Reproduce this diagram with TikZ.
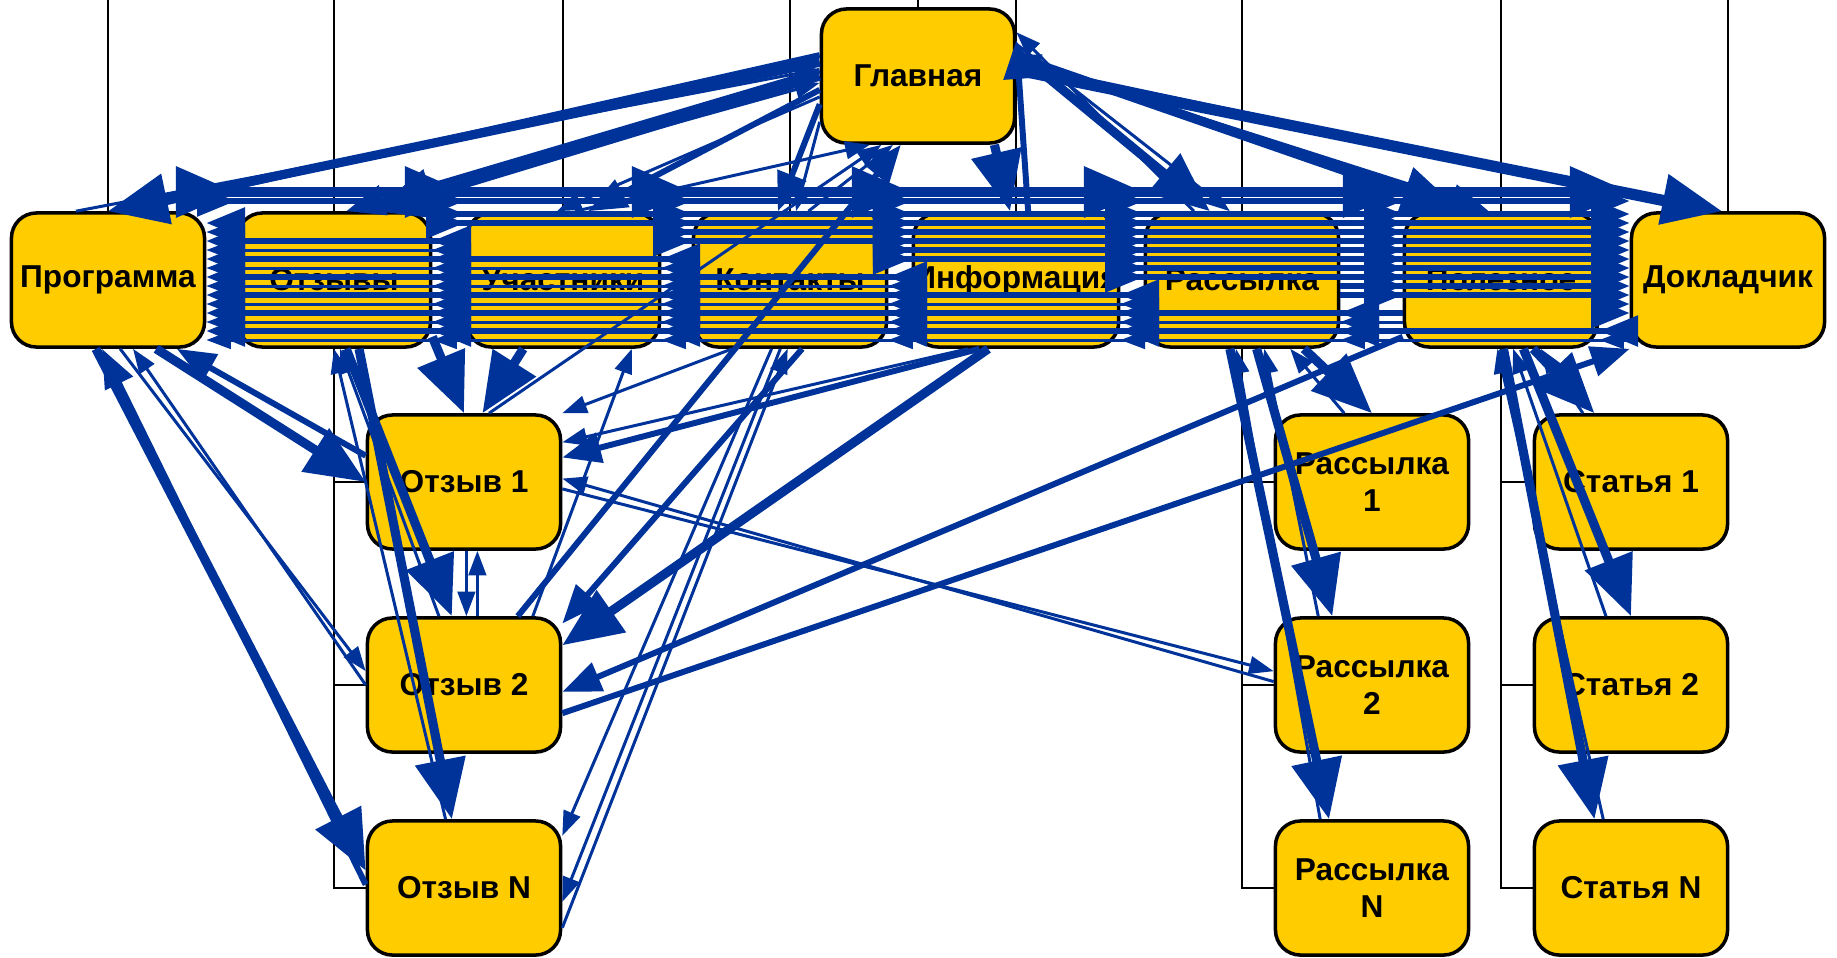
\documentclass[tikz,border=0pt]{standalone}
\usepackage{fontspec}
\setmainfont{Liberation Sans}
\usetikzlibrary{arrows.meta,calc}

\definecolor{lnkblue}{RGB}{0,51,153}
\definecolor{pgyellow}{RGB}{255,204,0}

\tikzset{
	pg/.style={draw=black, line width=1pt, fill=pgyellow, rounded corners=2.5mm,
		minimum width=1.93cm, minimum height=1.34cm, inner sep=0pt, align=center,
		font=\bfseries\fontsize{9}{10.5}\selectfont},
	tr/.style={draw=black, line width=0.5pt},
	lk/.style={draw=lnkblue, line width=0.85pt, -{Triangle[length=7pt,width=5pt]}},
	lkm/.style={draw=lnkblue, line width=1.7pt, -{Triangle[length=11pt,width=8.5pt]}},
	lkb/.style={draw=lnkblue, line width=2.6pt, -{Triangle[length=17pt,width=14pt]}},
}

\begin{document}
\begin{tikzpicture}[x=0.01cm, y=-0.01cm]
\useasboundingbox (0,0) rectangle (1837,957);
\coordinate(top) at(0,0);

% site tree
\node[pg](gl) at(918,76) {Главная};
\foreach[count=\i] \x/\t in {108/Программа,334/Отзывы,563/Участники,790/Контакты,1016/Информация,1242/Рассылка,1501/Полезное,1728/Докладчик}{
	\draw[tr] (\x,280) -- (\x,0);
	\node[pg](m\i) at(\x,280) {\t};
}
\draw[tr] (gl.north) -- (gl.north |- top);

\foreach \n/\y in {1/482,2/685,N/888}{
	\draw[tr] (m2.south) |- (464,\y);
	\draw[tr] (m6.south) |- (1372,\y);
	\draw[tr] (m7.south) |- (1631,\y);
	\node[pg](o\n) at(464,\y) {Отзыв \n};
	\node[pg](r\n) at(1372,\y) {Рассылка\\\n};
	\node[pg](s\n) at(1631,\y) {Статья \n};
}

% links along the row
\foreach \i/\o/\s in {1/-88/lkb,2/-66/lkm,3/-48/lkm,4/-30/lkm,5/-12/lkm,6/6/lkm,7/24/lkm}{
	\pgfmathtruncatemacro\k{\i+1}
	\pgfmathsetmacro\p{\o+9}
	\foreach \j in {\k,...,8}{
		\draw[\s] ($(m\i.east)+(0,\o)$) -- ($(m\j.west)+(0,\o)$);
		\draw[lkm] ($(m\i.east)+(0,\p)$) -- ($(m\j.west)+(0,\p)$);
	}
}
\foreach \i/\o/\s in {2/-57/lkm,3/-39/lkm,4/-21/lkm,5/-3/lkm,6/15/lkm,7/33/lkm,8/51/lkm}{
	\pgfmathtruncatemacro\k{\i-1}
	\pgfmathsetmacro\p{\o+9}
	\foreach \j in {1,...,\k}{
		\draw[\s] ($(m\i.west)+(0,\o)$) -- ($(m\j.east)+(0,\o)$);
		\draw[lk] ($(m\i.west)+(0,\p)$) -- ($(m\j.east)+(0,\p)$);
	}
}

% links to and from the main page
\foreach \u/\v/\s in {
	gl.172/m1.north/lkb, m1.115/gl.176/lk, gl.168/m1.75/lkm,
	gl.180/m2.60/lkb, m2.70/gl.184/lk, gl.177/m2.80/lkm,
	gl.188/m3.70/lkm, m3.80/gl.235/lk, gl.192/m3.95/lk,
	gl.196/m4.100/lkm, m4.75/gl.250/lk, gl.205/m4.85/lk,
	gl.318/m5.95/lkb, m5.80/gl.20/lkm,
	gl.14/m6.115/lkb, m6.125/gl.24/lk, gl.18/m6.100/lk,
	gl.9/m7.100/lkm, m7.110/gl.12/lk, gl.11/m7.120/lkb,
	gl.4/m8.95/lkb, m8.105/gl.7/lk, gl.2/m8.110/lkm%
}{
	\draw[\s] (\u) -- (\v);
}

% links down to the pages
\foreach \u/\v/\s in {
	m1.-55/o1.west/lkb, o1.165/m1.-45/lkm,
	m1.-80/o2.172/lk, o2.180/m1.-70/lk,
	m1.-100/oN.170/lkb, oN.178/m1.-95/lkm,
	m2.-30/o1.north/lkb, m3.-120/o1.75/lkb,
	m2.-80/o2.100/lkb, m2.-70/oN.100/lkb,
	o2.110/m2.-85/lk, oN.105/m2.-90/lk,
	o1.-88/o2.88/lk, o2.79/o1.-79/lk,
	o1.-4/r2.172/lk, r2.178/o1.2/lk,
	m5.-118/o1.14/lkm, m5.-125/o1.22/lk,
	m4.-130/o1.north east/lk,
	m5.-112/o2.22/lkb, m4.-80/o2.32/lkm,
	o2.45/m3.-45/lk,
	m7.-150/o2.-4/lkm, o2.-16/m8.south west/lkm,
	m4.-105/oN.28/lk, m4.-98/oN.-8/lk, oN.-22/m4.-92/lk,
	o1.70/gl.242/lk, o2.52/gl.256/lkm,
	m6.-48/r1.north/lkb, r1.112/m6.-55/lk,
	m6.-78/r2.120/lkb, r2.128/m6.-72/lk,
	m6.-100/rN.122/lkb, rN.127/m6.-95/lk,
	m7.-65/s1.118/lkb, s1.125/m7.-60/lk,
	m7.-72/s2.north/lkb, s2.110/m7.-80/lk,
	m7.-88/sN.118/lkb, sN.112/m7.-93/lk%
}{
	\draw[\s] (\u) -- (\v);
}
\end{tikzpicture}
\end{document}
